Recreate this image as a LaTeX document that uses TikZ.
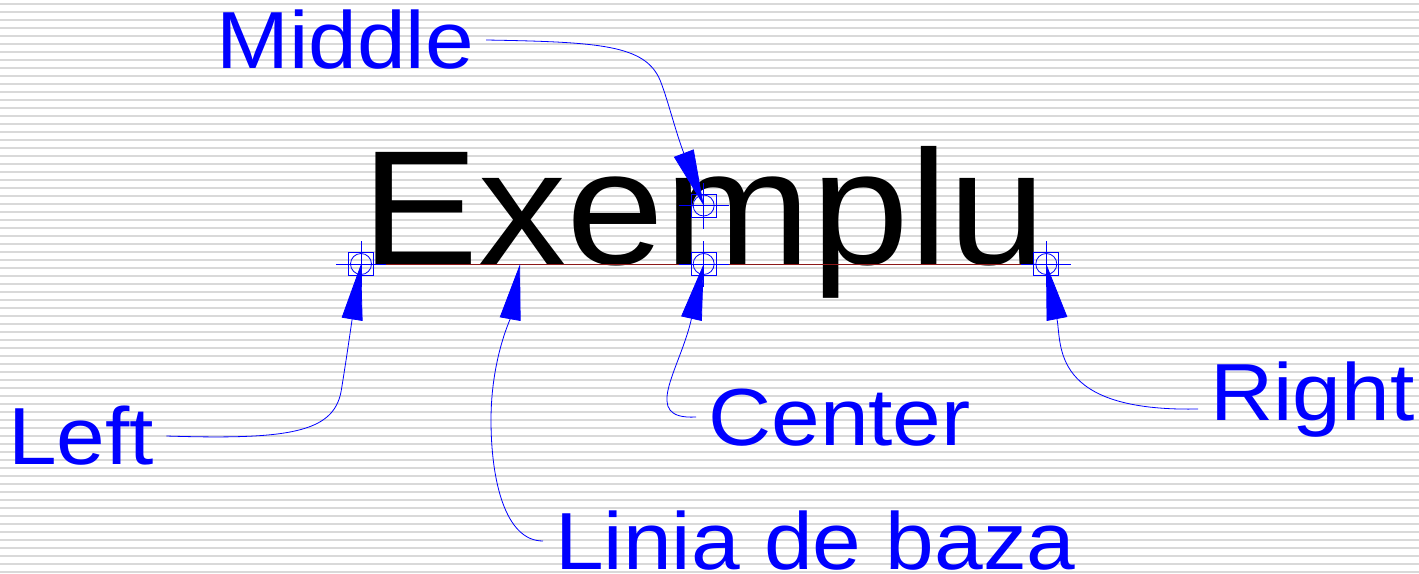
\documentclass[tikz,border=0pt]{standalone}
\usepackage{fontspec}
\setmainfont{Liberation Sans}[FakeStretch=1.08]
\usetikzlibrary{arrows.meta}

\definecolor{basered}{RGB}{140,25,25}

\begin{document}
\begin{tikzpicture}[
    x=1pt, y=-1pt,
    >={Triangle[length=56pt,width=21pt]},
    lbl/.style = {
      text = blue,
      font = \fontsize{81}{90}\selectfont,
      anchor = base west,
      inner xsep = 12pt,
      inner ysep = 0pt,
      text height = 56pt,
      text depth = 0pt
    },
    word/.style = {
      font = \fontsize{163}{180}\selectfont,
      anchor = base west,
      inner sep = 0pt,
      text height = 117pt,
      text depth = 0pt
    },
    pointer/.style = {blue, line width=0.8pt, ->},
    refpt/.style = {blue, line width=0.8pt}
  ]
\useasboundingbox (0,0) rectangle (1419,573);

% ruled background
\foreach \y in {4,12,...,572}
  \draw[line width=1.3pt, black!15] (0,\y) -- (1419,\y);

% the sample text
\node[word] (word) at (361,264) {Exemplu};
\coordinate (lpt) at (word.base west);
\coordinate (rpt) at (word.base east);
\coordinate (cpt) at (word.base);
\coordinate (mpt) at (word.center);
\coordinate (bl)  at (520,264);

\draw[line width=0.8pt, basered] (lpt) -- (rpt);

% reference points
\foreach \p in {lpt,mpt,cpt,rpt} {
  \draw[refpt] ([shift={(-12.5,-11.5)}]\p) rectangle ([shift={(12.5,11.5)}]\p);
  \draw[refpt] (\p) circle[radius=10.5pt];
  \draw[refpt] ([xshift=-25pt]\p) -- ([xshift=25pt]\p)
               ([yshift=-23pt]\p) -- ([yshift=23pt]\p);
}

% labels
\node[lbl] (left)   at (-4,464)   {Left};
\node[lbl] (middle) at (204,68)   {Middle};
\node[lbl] (center) at (696,445)  {Center};
\node[lbl] (basel)  at (543,569)  {Linia de baza};
\node[lbl] (right)  at (1198,420) {Right};

% pointers
\draw[pointer] (left.east) .. controls (290,440) and (333,432) .. (341,392)
                .. controls (346,362) and (352,320) .. (lpt);
\draw[pointer] (middle.east) .. controls (600,42) and (645,45) .. (660,80)
                .. controls (668,100) and (675,130) .. (mpt);
\draw[pointer] (center.west) .. controls (640,420) and (680,370) .. (cpt);
\draw[pointer] (basel.west) .. controls (505,541) and (491,480) .. (491,420)
                .. controls (491,360) and (510,320) .. (bl);
\draw[pointer] ([yshift=-17pt]right.west) .. controls (1050,412) and (1062,345) .. (rpt);

\end{tikzpicture}
\end{document}
